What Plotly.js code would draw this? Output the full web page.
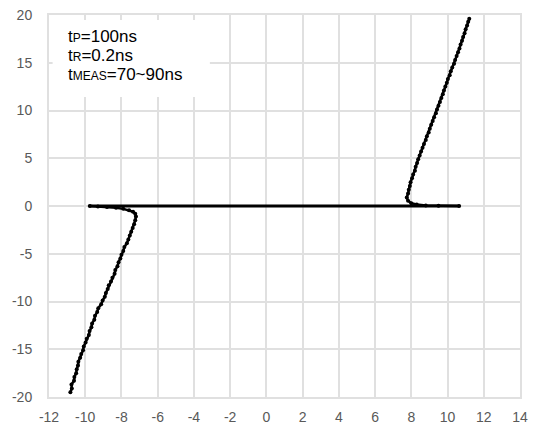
<!DOCTYPE html>
<html>
<head>
<meta charset="utf-8">
<script src="https://cdn.plot.ly/plotly-3.0.1.min.js"></script>
<style>html,body{margin:0;padding:0;background:#fff;}#chart{width:539px;height:429px;}</style>
</head>
<body>
<div id="chart"></div>
<script>
// Negative branch (from bottom up, bending into the zero line)
const negX = [-10.82,-10.74,-10.76,-10.62,-10.60,-10.50,-10.47,-10.40,-10.38,-10.28,-10.22,-10.12,-10.08,-9.98,-9.92,-9.80,-9.76,-9.66,-9.62,-9.50,-9.46,-9.34,-9.28,-9.12,-9.04,-8.92,-8.86,-8.76,-8.70,-8.58,-8.50,-8.38,-8.34,-8.22,-8.16,-8.06,-8.00,-7.90,-7.84,-7.70,-7.62,-7.54,-7.46,-7.38,-7.30,-7.24,-7.20,-7.24,-7.36,-7.58,-7.90,-8.30,-8.80,-9.30,-9.75];
const negY = [-19.5,-19.1,-18.7,-18.3,-17.9,-17.5,-17.1,-16.7,-16.3,-15.9,-15.5,-15.1,-14.7,-14.3,-13.9,-13.5,-13.1,-12.7,-12.3,-11.9,-11.5,-11.1,-10.7,-10.3,-9.9,-9.5,-9.1,-8.7,-8.3,-7.9,-7.5,-7.1,-6.7,-6.3,-5.9,-5.5,-5.1,-4.7,-4.3,-3.9,-3.5,-3.1,-2.7,-2.3,-1.9,-1.5,-1.1,-0.8,-0.6,-0.45,-0.3,-0.18,-0.1,-0.05,0];
// Zero line
const baseX = [-9.75, 10.64];
const baseY = [0, 0];
// Positive branch (from the zero line end, bending up)
const posX = [10.64,9.50,8.80,8.30,8.00,7.82,7.75,7.82,7.86,7.92,7.96,8.04,8.10,8.20,8.24,8.32,8.38,8.46,8.54,8.62,8.70,8.80,8.86,8.96,9.02,9.10,9.18,9.26,9.36,9.42,9.50,9.58,9.66,9.74,9.80,9.88,9.96,10.02,10.12,10.18,10.26,10.36,10.42,10.50,10.58,10.66,10.72,10.80,10.86,10.94,11.00,11.08,11.14,11.20];
const posY = [0,0.02,0.06,0.15,0.3,0.55,0.9,1.3,1.7,2.1,2.5,2.9,3.3,3.7,4.1,4.5,4.9,5.3,5.7,6.1,6.5,6.9,7.3,7.7,8.1,8.5,8.9,9.3,9.7,10.1,10.5,10.9,11.3,11.7,12.1,12.5,12.9,13.3,13.7,14.1,14.5,14.9,15.3,15.7,16.1,16.5,16.9,17.3,17.7,18.1,18.5,18.9,19.3,19.6];
const xTicks = [-12,-10,-8,-6,-4,-2,0,2,4,6,8,10,12,14];
const yTicks = [-20,-15,-10,-5,0,5,10,15,20];
const noteLines = [
  't<span style="font-size:12px">P</span>=100ns',
  't<span style="font-size:12px">R</span>=0.2ns',
  't<span style="font-size:12px">MEAS</span>=70~90ns'
];

const branchStyle = {mode:'lines+markers', line:{color:'#000', width:2.5}, marker:{color:'#000', size:4}, hoverinfo:'skip', showlegend:false};
const traces = [
  Object.assign({x:negX, y:negY, type:'scatter'}, branchStyle),
  {x:baseX, y:baseY, type:'scatter', mode:'lines', line:{color:'#000', width:3}, showlegend:false, hoverinfo:'skip'},
  Object.assign({x:posX, y:posY, type:'scatter'}, branchStyle)
];
const gridC = '#e0e0e0';
const tickFont = {family:'Liberation Sans, Arial, sans-serif', size:14, color:'#595959'};
const noteY = [0.943, 0.895, 0.843];
const layout = {
  width:539, height:429,
  margin:{l:49, r:19, t:15, b:32},
  paper_bgcolor:'#fff', plot_bgcolor:'#fff',
  xaxis:{range:[-12,14], tickvals:xTicks, ticktext:xTicks.map(String), showgrid:true, gridcolor:gridC, gridwidth:2, zeroline:false, showline:true, mirror:true, linecolor:gridC, linewidth:2, ticks:'', tickfont:tickFont, ticklabelstandoff:6},
  yaxis:{range:[-20,20], tickvals:yTicks, ticktext:yTicks.map(String), showgrid:true, gridcolor:gridC, gridwidth:2, zeroline:false, showline:true, mirror:true, linecolor:gridC, linewidth:2, ticks:'', tickfont:tickFont, ticklabelstandoff:12},
  shapes:[{type:'rect', xref:'x', yref:'y', x0:-11.8, x1:-3.12, y0:11.42, y1:19.48, fillcolor:'#fff', line:{width:0}, layer:'above'}],
  annotations: noteLines.map((t,i)=>({text:t, xref:'paper', yref:'paper', x:0.036, y:noteY[i], xanchor:'left', yanchor:'middle', showarrow:false, align:'left', font:{family:'Liberation Sans, Arial, sans-serif', size:17, color:'#000'}}))
};
Plotly.newPlot('chart', traces, layout, {staticPlot:true, displayModeBar:false});
</script>
</body>
</html>
